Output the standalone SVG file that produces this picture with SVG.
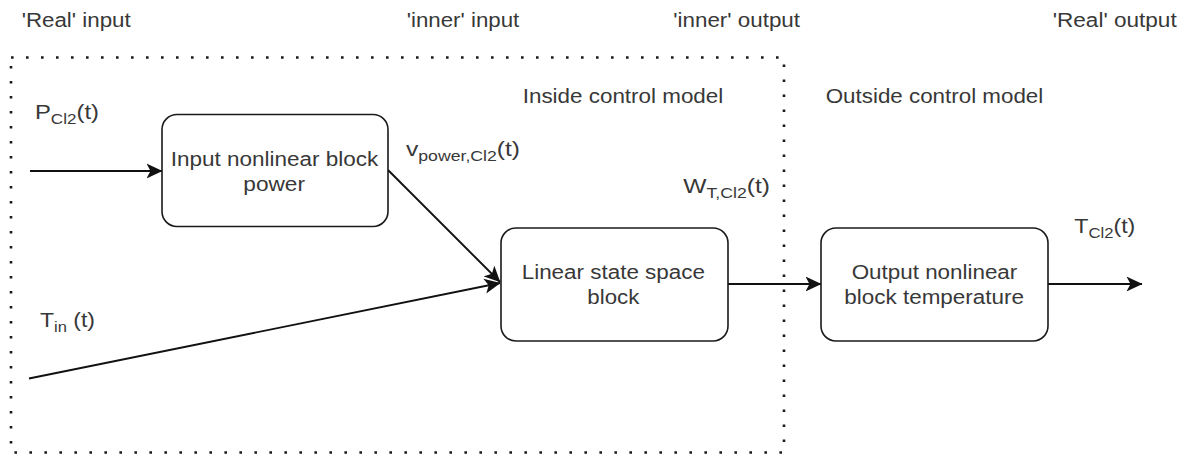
<svg xmlns="http://www.w3.org/2000/svg" width="1191" height="455" viewBox="0 0 1191 455">
  <style>
    text { font-family: "Liberation Sans", Arial, sans-serif; font-size: 19.5px; fill: #383838; }
    .sub { font-size: 14px; }
    .block { fill: #ffffff; stroke: #1a1a1a; stroke-width: 1.6; }
    .wire { fill: none; stroke: #111111; stroke-width: 1.9; }
    .boundary { fill: none; stroke: #1a1a1a; stroke-width: 2.6; stroke-dasharray: 2.6 12.4; }
  </style>
  <defs>
    <marker id="arrow" viewBox="0 0 16 16" refX="15.5" refY="8" markerWidth="16" markerHeight="16" markerUnits="userSpaceOnUse" orient="auto">
      <path d="M0,0.5 L16,8 L0,15.5 L4,8 Z" fill="#111111"/>
    </marker>
  </defs>

  <rect width="1191" height="455" fill="#ffffff"/>

  <!-- control model boundary -->
  <g id="boundary">
    <rect class="boundary" x="11" y="57.5" width="773" height="395"/>
    <text x="522.7" y="103.3" textLength="200.6" lengthAdjust="spacingAndGlyphs">Inside control model</text>
    <text x="825.7" y="103.3" textLength="217.6" lengthAdjust="spacingAndGlyphs">Outside control model</text>
  </g>

  <!-- column headings -->
  <g id="headings">
    <text x="21.7" y="27.3" textLength="109" lengthAdjust="spacingAndGlyphs">'Real' input</text>
    <text x="406.7" y="27.3" textLength="112.6" lengthAdjust="spacingAndGlyphs">'inner' input</text>
    <text x="673.3" y="27.3" textLength="126.7" lengthAdjust="spacingAndGlyphs">'inner' output</text>
    <text x="1052.7" y="27.3" textLength="124" lengthAdjust="spacingAndGlyphs">'Real' output</text>
  </g>

  <!-- connectors -->
  <g id="connectors">
    <line class="wire" x1="30" y1="171" x2="162" y2="171" marker-end="url(#arrow)"/>
    <line class="wire" x1="388" y1="170" x2="500" y2="282" marker-end="url(#arrow)"/>
    <line class="wire" x1="29" y1="378.5" x2="500" y2="283" marker-end="url(#arrow)"/>
    <line class="wire" x1="728" y1="284" x2="821" y2="284" marker-end="url(#arrow)"/>
    <line class="wire" x1="1048" y1="284" x2="1142" y2="284" marker-end="url(#arrow)"/>
  </g>

  <!-- signal labels -->
  <g id="signals">
    <text x="35" y="118.5" textLength="64" lengthAdjust="spacingAndGlyphs">P<tspan class="sub" dy="5">Cl2</tspan><tspan dy="-5">(t)</tspan></text>
    <text x="406" y="156" textLength="114" lengthAdjust="spacingAndGlyphs">v<tspan class="sub" dy="5">power,Cl2</tspan><tspan dy="-5">(t)</tspan></text>
    <text x="683.3" y="193.3" textLength="86.7" lengthAdjust="spacingAndGlyphs">W<tspan class="sub" dy="5">T,Cl2</tspan><tspan dy="-5">(t)</tspan></text>
    <text x="40" y="326.7" textLength="55" lengthAdjust="spacingAndGlyphs">T<tspan class="sub" dy="5">in</tspan><tspan dy="-5"> (t)</tspan></text>
    <text x="1074.3" y="232.7" textLength="61" lengthAdjust="spacingAndGlyphs">T<tspan class="sub" dy="5">Cl2</tspan><tspan dy="-5">(t)</tspan></text>
  </g>

  <g id="input-nonlinear">
    <rect class="block" x="162" y="114.5" width="226" height="112" rx="15" ry="15"/>
    <text x="170.7" y="165.7" textLength="207.6" lengthAdjust="spacingAndGlyphs">Input nonlinear block</text>
    <text x="243.3" y="190.7" textLength="61.7" lengthAdjust="spacingAndGlyphs">power</text>
  </g>

  <g id="linear-state-space">
    <rect class="block" x="501" y="228" width="227" height="113" rx="15" ry="15"/>
    <text x="521.7" y="279" textLength="183.3" lengthAdjust="spacingAndGlyphs">Linear state space</text>
    <text x="587.3" y="304.3" textLength="52" lengthAdjust="spacingAndGlyphs">block</text>
  </g>

  <g id="output-nonlinear">
    <rect class="block" x="821" y="228" width="227" height="113" rx="15" ry="15"/>
    <text x="851.7" y="279" textLength="165.6" lengthAdjust="spacingAndGlyphs">Output nonlinear</text>
    <text x="844.3" y="304.3" textLength="179.7" lengthAdjust="spacingAndGlyphs">block temperature</text>
  </g>
</svg>
